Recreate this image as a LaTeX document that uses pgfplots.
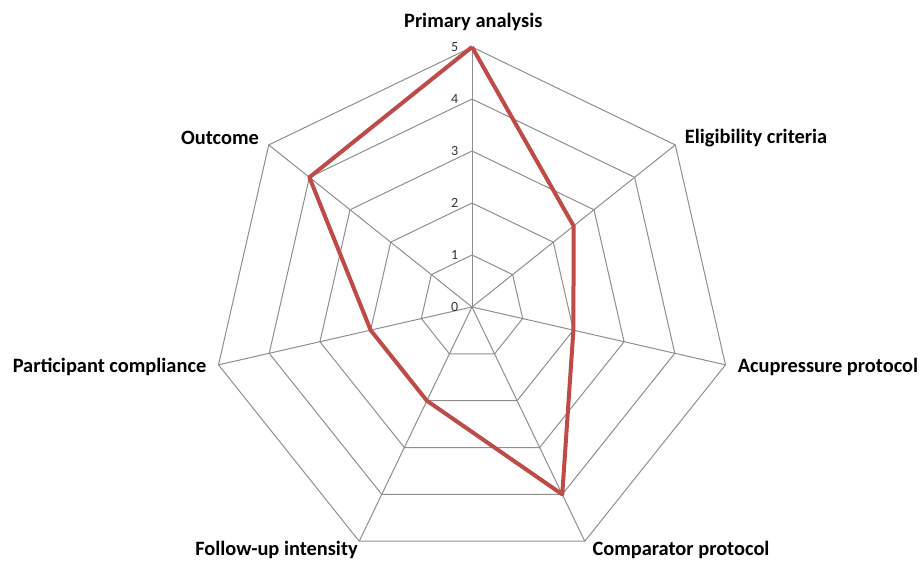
\documentclass[border=0pt]{standalone}
\usepackage{pgfplots}
\pgfplotsset{compat=1.18}
\usepackage{fontspec}
\setmainfont{Carlito}
\definecolor{radred}{HTML}{BE4B48}
\definecolor{gridgray}{HTML}{8E8E8E}
\begin{document}
\begin{tikzpicture}
\begin{axis}[
  x=39pt, y=39pt,
  xmin=-9.077, xmax=8.654, ymin=-4.904, ymax=5.904,
  hide axis, clip=false,
]
\path (rel axis cs:0,0) rectangle (rel axis cs:1,1);
% grid heptagons
\pgfplotsinvokeforeach{1,2,3,4,5}{
  \addplot[gridgray, line width=0.75pt, data cs=polar, mark=none] coordinates {
    (90,#1) (38.5714,#1) (-12.8571,#1) (-64.2857,#1) (-115.7143,#1) (-167.1429,#1) (-218.5714,#1) (90,#1)};
}
% spokes
\pgfplotsinvokeforeach{90,38.5714,-12.8571,-64.2857,-115.7143,-167.1429,-218.5714}{
  \addplot[gridgray, line width=0.75pt, data cs=polar, mark=none] coordinates {(#1,0) (#1,5)};
}
% data
\addplot[radred, line width=3pt, line join=round, data cs=polar, mark=none] coordinates {
  (90,5) (38.5714,2.5) (-12.8571,2) (-64.2857,4) (-115.7143,2) (-167.1429,2) (-218.5714,4) (90,5)};
% tick labels
\pgfplotsinvokeforeach{0,1,2,3,4,5}{
  \node[anchor=east, inner sep=0pt, font=\fontsize{10.5}{12}\selectfont, text=black!80] at (axis cs:-0.26,#1) {#1};
}
% category labels
\begin{scope}[every node/.style={font=\fontsize{15.3}{17}\selectfont\bfseries, inner sep=0pt}]
\node at (axis cs:0.025,5.487) {Primary analysis};
\node at (axis cs:5.462,3.25) {Eligibility criteria};
\node at (axis cs:6.846,-1.148) {Acupressure protocol};
\node at (axis cs:4.019,-4.673) {Comparator protocol};
\node at (axis cs:-3.760,-4.673) {Follow-up intensity};
\node at (axis cs:-6.971,-1.148) {Participant compliance};
\node at (axis cs:-4.846,3.25) {Outcome};
\end{scope}
\end{axis}
\end{tikzpicture}
\end{document}
